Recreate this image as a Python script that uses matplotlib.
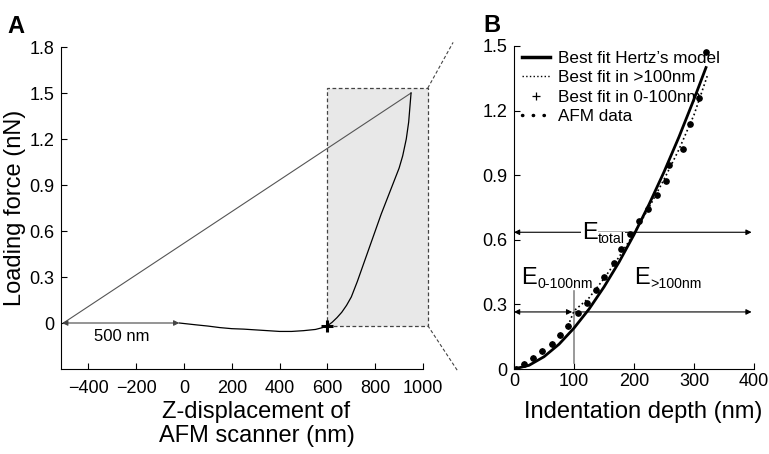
import matplotlib
matplotlib.use('Agg')
import matplotlib.pyplot as plt
from matplotlib.lines import Line2D
from matplotlib.patches import Rectangle

plt.rcParams['font.family'] = ['Liberation Sans', 'DejaVu Sans']

# Panel A: force curve (approach + retraction)
approach_x = [-505, 950]
approach_y = [0.0, 1.5]
retract_x = [-20, 50, 100, 150, 200, 250, 300, 350, 400, 450, 500, 550, 580,
             600, 620, 640, 660, 680, 700, 725, 750, 775, 800, 825, 850, 875,
             900, 915, 930, 940, 950]
retract_y = [0.0, -0.012, -0.02, -0.03, -0.037, -0.04, -0.045, -0.05, -0.055,
             -0.055, -0.05, -0.042, -0.03, -0.018, 0.005, 0.035, 0.07, 0.115,
             0.17, 0.27, 0.38, 0.49, 0.6, 0.71, 0.81, 0.91, 1.01, 1.09, 1.2,
             1.31, 1.5]
contact_x, contact_y = 600, -0.02
a_xticks = [-400, -200, 0, 200, 400, 600, 800, 1000]
a_yticks = [0, 0.3, 0.6, 0.9, 1.2, 1.5, 1.8]
a_yticklabels = ['0', '0.3', '0.6', '0.9', '1.2', '1.5', '1.8']

# Panel B: indentation data and fits
afm_x = [3, 17, 32, 47, 63, 77, 90, 107, 121, 136, 150, 166, 179, 194, 209,
         224, 238, 253, 259, 282, 294, 309, 320]
afm_y = [0.0, 0.023, 0.05, 0.083, 0.116, 0.16, 0.2, 0.258, 0.305, 0.366,
         0.428, 0.493, 0.555, 0.625, 0.686, 0.745, 0.81, 0.872, 0.946, 1.02,
         1.14, 1.26, 1.47]
hertz_x = [0, 25, 50, 75, 100, 125, 150, 175, 200, 225, 250, 275, 300, 320]
hertz_y = [0.0, 0.017, 0.057, 0.115, 0.19, 0.278, 0.381, 0.496, 0.624, 0.764,
           0.915, 1.078, 1.253, 1.40]
fit_gt100_x = [90, 100, 125, 150, 175, 200, 225, 250, 275, 300, 322]
fit_gt100_y = [0.2, 0.27, 0.33, 0.42, 0.52, 0.63, 0.75, 0.88, 1.02, 1.18, 1.36]
fit_0_100_x = [3, 17, 32, 47, 63, 77, 90]
fit_0_100_y = [0.0, 0.023, 0.05, 0.083, 0.116, 0.16, 0.2]
b_xticks = [0, 100, 200, 300, 400]
b_yticks = [0, 0.3, 0.6, 0.9, 1.2, 1.5]
b_yticklabels = ['0', '0.3', '0.6', '0.9', '1.2', '1.5']
modulus_labels = [('total', 113, 0.606), ('0-100nm', 12, 0.397), ('>100nm', 200, 0.397)]

fig = plt.figure(figsize=(7.69, 4.54), dpi=100)

# ---------- Panel A ----------
axA = fig.add_axes([61/769, 85/454, 362/769, 322/454])
axA.add_patch(Rectangle((598, -0.017), 422, 1.549, facecolor='#e8e8e8',
                        edgecolor='#444444', linestyle=(0, (3, 2)), lw=0.9,
                        zorder=0, clip_on=False))
axA.plot(approach_x, approach_y, color='#555555', lw=0.8)
axA.plot(retract_x, retract_y, color='black', lw=0.9)
axA.plot(contact_x, contact_y, marker='+', color='black', ms=9, mew=2.2)
axA.annotate('', xy=(-510, 0), xytext=(-20, 0),
             arrowprops=dict(arrowstyle='<|-|>', color='#444444', lw=0.8,
                             mutation_scale=8, shrinkA=0, shrinkB=0))
axA.text(-260, -0.085, '500 nm', fontsize=12, ha='center', va='center')
# zoom lines towards panel B
axA.plot([1020, 1126], [1.532, 1.83], color='#444444', lw=0.8,
         linestyle=(0, (3, 2)), clip_on=False)
axA.plot([1020, 1147], [-0.017, -0.317], color='#444444', lw=0.8,
         linestyle=(0, (3, 2)), clip_on=False)

axA.set_xlim(-515, 1000)
axA.set_ylim(-0.3, 1.8)
axA.set_xticks(a_xticks)
axA.set_yticks(a_yticks)
axA.set_yticklabels(a_yticklabels)
axA.spines['top'].set_visible(False)
axA.spines['right'].set_visible(False)
axA.tick_params(direction='in', length=4, labelsize=13)
axA.tick_params(axis='x', pad=8)
axA.tick_params(axis='y', pad=5)
axA.set_ylabel('Loading force (nN)', fontsize=17, labelpad=2)
axA.set_xlabel('Z-displacement of\nAFM scanner (nm)', fontsize=17,
               linespacing=1.1)
axA.xaxis.set_label_coords(0.54, -0.1, transform=axA.transAxes)
axA.xaxis.label.set_va('top')

# ---------- Panel B ----------
axB = fig.add_axes([514/769, 85/454, 240/769, 323/454])
axB.plot(hertz_x, hertz_y, color='black', lw=2, zorder=4)
axB.plot(fit_gt100_x, fit_gt100_y, color='black', lw=1.2, ls=':', zorder=4)
axB.plot(fit_0_100_x, fit_0_100_y, color='black', ls='none', marker='+',
         ms=5, mew=0.8, zorder=4)
axB.plot(afm_x, afm_y, color='black', ls='none', marker='o', ms=3.8, zorder=4)
axB.plot([100, 100], [0.03, 0.36], color='#888888', lw=1.2, zorder=2)

arrow_kw = dict(color='black', lw=0.8, mutation_scale=8, shrinkA=0, shrinkB=0)
axB.annotate('', xy=(0, 0.635), xytext=(396, 0.635),
             arrowprops=dict(arrowstyle='<|-|>', **arrow_kw), zorder=1)
axB.annotate('', xy=(0, 0.265), xytext=(97, 0.265),
             arrowprops=dict(arrowstyle='<|-|>', **arrow_kw), zorder=1)
axB.annotate('', xy=(396, 0.265), xytext=(100, 0.265),
             arrowprops=dict(arrowstyle='-|>', **arrow_kw), zorder=1)

# E with subscripts, drawn as two texts
for sub, x, y in modulus_labels:
    axB.text(x, y, 'E', fontsize=17, ha='left', va='baseline', zorder=3,
             bbox=dict(facecolor='white', edgecolor='none', pad=0.3))
    axB.annotate(sub, xy=(x, y), xytext=(11.6, -3.5), textcoords='offset points',
                 fontsize=10.2, ha='left', va='baseline', zorder=3,
                 bbox=dict(facecolor='white', edgecolor='none', pad=0.2)
                 if sub == 'total' else None)

handles = [
    Line2D([], [], color='black', lw=2.5),
    Line2D([], [], color='black', lw=1, ls=':'),
    Line2D([], [], color='black', ls='none', marker='+', ms=6, mew=0.9),
    Line2D([], [], color='black', lw=2.5, ls=(0, (0.1, 3)), dash_capstyle='round'),
]
labels = ['Best fit Hertz\u2019s model', 'Best fit in >100nm',
          'Best fit in 0-100nm', 'AFM data']
axB.legend(handles, labels, loc='upper left', bbox_to_anchor=(0.02, 0.995),
           frameon=False, fontsize=12.3, handlelength=1.6, handletextpad=0.5,
           labelspacing=0.25, borderpad=0.2, borderaxespad=0)

axB.set_xlim(0, 400)
axB.set_ylim(0, 1.5)
axB.set_xticks(b_xticks)
axB.set_yticks(b_yticks)
axB.set_yticklabels(b_yticklabels)
axB.spines['top'].set_visible(False)
axB.spines['right'].set_visible(False)
axB.tick_params(direction='in', length=4, labelsize=13)
axB.tick_params(axis='x', pad=3)
axB.tick_params(axis='y', pad=5)
axB.set_xlabel('Indentation depth (nm)', fontsize=17)
axB.xaxis.set_label_coords(0.54, -0.1, transform=axB.transAxes)
axB.xaxis.label.set_va('top')

fig.text(7/769, 1 - 33/454, 'A', fontsize=17, fontweight='bold')
fig.text(483/769, 1 - 32/454, 'B', fontsize=17, fontweight='bold')

fig.savefig('out.png', dpi=100)
